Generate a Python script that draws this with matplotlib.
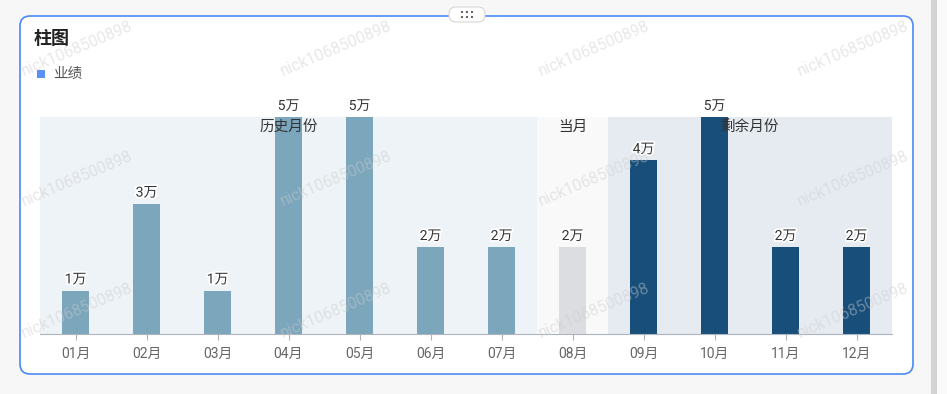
import matplotlib
matplotlib.use("Agg")
import matplotlib.pyplot as plt
import matplotlib.patheffects as pe
from matplotlib.patches import FancyBboxPatch, Rectangle, Circle

plt.rcParams['font.family'] = ['Noto Sans CJK SC', 'DejaVu Sans']
NUM_FONT = ['Roboto', 'Noto Sans CJK SC']

months = ['01月', '02月', '03月', '04月', '05月', '06月',
          '07月', '08月', '09月', '10月', '11月', '12月']
values = [1, 3, 1, 5, 5, 2, 2, 2, 4, 5, 2, 2]
periods = ['历史月份', '当月', '剩余月份']
period_months = [(0, 6), (7, 7), (8, 11)]
period_bar_colors = ['#7ba6bc', '#dcdde1', '#184e7a']
period_bg_colors = ['#eef3f7', '#f9f9f9', '#e6ebf2']

W, H = 947, 394
fig = plt.figure(figsize=(W / 100, H / 100), dpi=100)
fig.patch.set_facecolor('#f7f7f7')

# background / card layer in pixel units
bg = fig.add_axes([0, 0, 1, 1])
bg.set_xlim(0, W)
bg.set_ylim(H, 0)
bg.axis('off')
bg.add_patch(FancyBboxPatch((20, 16), 893, 358,
                            boxstyle="round,pad=0,rounding_size=10",
                            fc='white', ec='#4a8af4', lw=1.2))
bg.add_patch(Rectangle((931, 0), 6, H, fc='#d4d4d4', ec='none'))
bg.add_patch(Rectangle((937, 0), 10, H, fc='#fafafa', ec='none'))
# drag handle
bg.add_patch(FancyBboxPatch((449, 7), 36, 15,
                            boxstyle="round,pad=0,rounding_size=7",
                            fc='white', ec='#d6d6d6', lw=0.8))
for i in range(3):
    for j in range(2):
        bg.add_patch(Circle((462 + i * 5, 12 + j * 5), 1.1, fc='#555555', ec='none'))

bg.text(34, 38, '柱图', fontsize=13, fontweight='bold', color='#222222',
        va='center', ha='left')
bg.add_patch(Rectangle((37, 70), 8, 8, fc='#5b8ff9', ec='none'))
bg.text(53, 74, '业绩', fontsize=10.5, color='#555555', va='center', ha='left')

# main chart
ax = fig.add_axes([40 / W, 1 - 334 / H, 852 / W, 217 / H])
ax.set_facecolor('none')
ax.set_xlim(-0.5, len(months) - 0.5)
ax.set_ylim(0, 5)

bar_colors = []
for (a, b), bcol, bgcol, name in zip(period_months, period_bar_colors,
                                      period_bg_colors, periods):
    ax.axvspan(a - 0.5, b + 0.5, color=bgcol, lw=0, zorder=0)
    ax.text((a + b) / 2, 4.77, name, ha='center', va='center',
            fontsize=10.5, color='#333333', zorder=4)
    bar_colors += [bcol] * (b - a + 1)

x = list(range(len(months)))
ax.bar(x, values, width=0.38, color=bar_colors, zorder=2)
for xi, v in zip(x, values):
    ax.annotate(f'{v}万', (xi, v), xytext=(0, 3), textcoords='offset points',
                ha='center', va='bottom', fontsize=10, color='#333333',
                family=NUM_FONT, annotation_clip=False, zorder=5,
                path_effects=[pe.withStroke(linewidth=2.5, foreground='white')])

for s in ['top', 'right', 'left']:
    ax.spines[s].set_visible(False)
ax.spines['bottom'].set_color('#aeb4bd')
ax.set_yticks([])
ax.set_xticks(x)
ax.set_xticklabels(months, fontsize=10, color='#666666', family=NUM_FONT)
ax.tick_params(axis='x', length=4, color='#aeb4bd', pad=5)

# watermarks
for my in (76, 206, 338):
    for mx in (24, 283, 541, 800):
        fig.text(mx / W, 1 - my / H, 'nick1068500898', rotation=23, fontsize=11.5,
                 color='#cccccc', alpha=0.45, ha='left', va='baseline',
                 family=NUM_FONT, rotation_mode='anchor')

fig.savefig('out.png', dpi=100)
